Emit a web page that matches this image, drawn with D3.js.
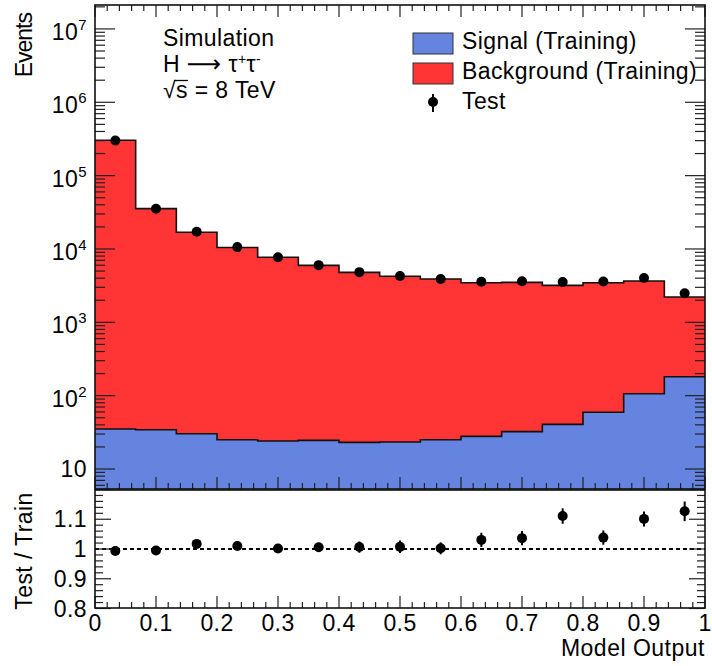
<!DOCTYPE html>
<html>
<head>
<meta charset="utf-8">
<script src="https://cdn.jsdelivr.net/npm/d3@7"></script>
<style>
  body { margin: 0; background: #fff; }
  text { font-family: "Liberation Sans", Arial, Helvetica, sans-serif; fill: #000; letter-spacing: 0.4px; }
</style>
</head>
<body>
<div class="boundary"></div>
<script>
// histogram contents, 15 bins on [0,1]
var nBins = 15;
var signal = [35.1, 34.3, 30.3, 25.1, 24.1, 24.6, 23.1, 23.4, 25.1, 27.9, 32.3, 40.6, 59.3, 106, 181];
var background = [302960, 35470, 16870, 10470, 7680, 5960, 4780, 4220, 3870, 3440, 3470, 3150, 3410, 3550, 2030];
var test = [300900, 35320, 17190, 10600, 7715, 6020, 4834, 4274, 3904, 3574, 3630, 3544, 3602, 4026, 2491];
var testErr = [909, 178, 101, 74, 69, 72, 91, 89, 78, 83, 84, 83, 83, 92, 73];
var xTicks = [0, 0.1, 0.2, 0.3, 0.4, 0.5, 0.6, 0.7, 0.8, 0.9, 1];
var yDecades = [1, 2, 3, 4, 5, 6, 7];
var ratioTicks = [0.8, 0.9, 1, 1.1];

var width = 712, height = 666;
var left = 95, right = 705;
var mainTop = 5, mainBottom = 489;
var ratTop = 490, ratBottom = 608;

var svg = d3.select(".boundary").append("svg")
  .attr("width", width).attr("height", height)
  .style("background", "#fff");

var x = d3.scaleLinear().domain([0, 1]).range([left, right]);
var y = d3.scaleLog().domain([5.34, 2.12e7]).range([mainBottom, mainTop]);
var yr = d3.scaleLinear().domain([0.8, 1.2]).range([ratBottom + 0.5, ratTop - 0.5]);

var bins = d3.range(nBins).map(function(i) {
  var tot = signal[i] + background[i];
  return {
    lo: i / nBins, hi: (i + 1) / nBins,
    sig: signal[i], tot: tot,
    test: test[i], err: testErr[i],
    ratio: test[i] / tot, rerr: testErr[i] / tot
  };
});
// step points (last value repeated at x = 1)
var steps = bins.map(function(d) { return d; }).concat([{ lo: 1, sig: bins[nBins - 1].sig, tot: bins[nBins - 1].tot }]);

svg.append("clipPath").attr("id", "mainclip").append("rect")
  .attr("x", left).attr("y", mainTop).attr("width", right - left).attr("height", mainBottom - mainTop);
var main = svg.append("g").attr("clip-path", "url(#mainclip)");

var redFill = "#ff3434", blueFill = "#6584e0";

var bkgArea = d3.area().curve(d3.curveStepAfter)
  .x(function(d) { return x(d.lo); })
  .y0(function(d) { return y(d.sig); })
  .y1(function(d) { return y(d.tot); });
var sigArea = d3.area().curve(d3.curveStepAfter)
  .x(function(d) { return x(d.lo); })
  .y0(mainBottom + 5)
  .y1(function(d) { return y(d.sig); });
main.append("path").attr("d", bkgArea(steps)).attr("fill", redFill);
main.append("path").attr("d", sigArea(steps)).attr("fill", blueFill);

var topLine = d3.line().curve(d3.curveStepAfter).x(function(d) { return x(d.lo); });
main.append("path").attr("d", topLine.y(function(d) { return y(d.tot); })(steps))
  .attr("fill", "none").attr("stroke", "#111").attr("stroke-width", 1.6);
main.append("path").attr("d", topLine.y(function(d) { return y(d.sig); })(steps))
  .attr("fill", "none").attr("stroke", "#111").attr("stroke-width", 1.6);

// test points on the main panel
var pts = main.append("g").selectAll("g").data(bins).enter().append("g");
pts.append("line")
  .attr("x1", function(d) { return x((d.lo + d.hi) / 2); })
  .attr("x2", function(d) { return x((d.lo + d.hi) / 2); })
  .attr("y1", function(d) { return y(d.test + d.err); })
  .attr("y2", function(d) { return y(d.test - d.err); })
  .attr("stroke", "#000").attr("stroke-width", 2);
pts.append("circle")
  .attr("cx", function(d) { return x((d.lo + d.hi) / 2); })
  .attr("cy", function(d) { return y(d.test); })
  .attr("r", 5).attr("fill", "#000");

// ratio panel
svg.append("line").attr("x1", left).attr("x2", right)
  .attr("y1", yr(1)).attr("y2", yr(1))
  .attr("stroke", "#000").attr("stroke-width", 2).attr("stroke-dasharray", "4,3");
var rpts = svg.append("g").selectAll("g").data(bins).enter().append("g");
rpts.append("line")
  .attr("x1", function(d) { return x((d.lo + d.hi) / 2); })
  .attr("x2", function(d) { return x((d.lo + d.hi) / 2); })
  .attr("y1", function(d) { return yr(d.ratio + d.rerr); })
  .attr("y2", function(d) { return yr(d.ratio - d.rerr); })
  .attr("stroke", "#000").attr("stroke-width", 2);
rpts.append("circle")
  .attr("cx", function(d) { return x((d.lo + d.hi) / 2); })
  .attr("cy", function(d) { return yr(d.ratio); })
  .attr("r", 5).attr("fill", "#000");

// ticks
var axes = svg.append("g").attr("stroke", "#222").attr("stroke-width", 1.2);
function tick(x1, y1, x2, y2) {
  axes.append("line").attr("x1", x1).attr("y1", y1).attr("x2", x2).attr("y2", y2);
}
var xMinor = d3.range(0, 51).map(function(i) { return i / 50; });
xMinor.forEach(function(v) {
  var major = Math.abs(v * 10 - Math.round(v * 10)) < 1e-6;
  var len = major ? 12 : 6;
  tick(x(v), mainBottom, x(v), mainBottom - len);
  tick(x(v), mainTop, x(v), mainTop + len);
  tick(x(v), ratBottom, x(v), ratBottom - len);
});
// log y ticks
d3.range(0, 8).forEach(function(k) {
  d3.range(1, 10).forEach(function(m) {
    var v = m * Math.pow(10, k);
    if (v < y.domain()[0] || v > y.domain()[1]) return;
    var len = m === 1 ? 20 : 10;
    tick(left, y(v), left + len, y(v));
    tick(right, y(v), right - len, y(v));
  });
});
// ratio y ticks
d3.range(0, 21).forEach(function(i) {
  var v = 0.8 + i * 0.02;
  var major = i % 5 === 0;
  var len = major ? 16 : 8;
  tick(left, yr(v), left + len, yr(v));
  tick(right, yr(v), right - len, yr(v));
});

// frames
svg.append("rect").attr("x", left).attr("y", mainTop).attr("width", right - left).attr("height", mainBottom - mainTop)
  .attr("fill", "none").attr("stroke", "#111").attr("stroke-width", 1.6);
svg.append("rect").attr("x", left).attr("y", ratTop).attr("width", right - left).attr("height", ratBottom - ratTop)
  .attr("fill", "none").attr("stroke", "#111").attr("stroke-width", 1.6);

// tick labels
var fs = 23;
yDecades.forEach(function(k) {
  var t = svg.append("text").attr("x", 87).attr("text-anchor", "end").style("font-size", fs + "px");
  if (k === 1) {
    t.attr("y", y(10) + 8).text("10");
  } else {
    t.attr("y", y(Math.pow(10, k)) + 11);
    t.append("tspan").text("10");
    t.append("tspan").attr("dy", -10).style("font-size", "15px").text(k);
  }
});
ratioTicks.forEach(function(v) {
  svg.append("text").attr("x", 87).attr("y", yr(v) + 8).attr("text-anchor", "end")
    .style("font-size", fs + "px").text(d3.format("")(+v.toFixed(1)));
});
xTicks.forEach(function(v) {
  svg.append("text").attr("x", x(v)).attr("y", 631).attr("text-anchor", "middle")
    .style("font-size", fs + "px").text(d3.format("")(v));
});

// axis titles
svg.append("text").attr("transform", "translate(32,13) rotate(-90)").attr("text-anchor", "end")
  .style("font-size", "23px").style("letter-spacing", "-1px").text("Events");
svg.append("text").attr("transform", "translate(32,551) rotate(-90)").attr("text-anchor", "middle")
  .style("font-size", "23px").text("Test / Train");
svg.append("text").attr("x", 705).attr("y", 656).attr("text-anchor", "end")
  .style("font-size", "23px").style("letter-spacing", "0.5px").text("Model Output");

// labels
var lab = svg.append("g").style("font-size", "23px");
lab.append("text").attr("x", 163).attr("y", 46).text("Simulation");
var h = lab.append("text").attr("x", 163).attr("y", 72);
h.append("tspan").text("H ");
h.append("tspan").style("font-family", "'DejaVu Sans'").style("font-size", "24px").text("\u27f6");
h.append("tspan").text(" \u03c4");
h.append("tspan").attr("dy", -8).style("font-size", "14px").text("+");
h.append("tspan").attr("dy", 8).text("\u03c4");
h.append("tspan").attr("dy", -8).style("font-size", "14px").text("-");
var rs = lab.append("text").attr("x", 163).attr("y", 98);
rs.append("tspan").text("\u221a");
rs.append("tspan").text("s");
rs.append("tspan").text(" = 8 TeV");
// bar of the square root over "s"
var sBox = rs.node().getExtentOfChar(1);
var rBox = rs.node().getExtentOfChar(0);
lab.append("line")
  .attr("x1", rBox.x + rBox.width - 1.5).attr("x2", sBox.x + sBox.width)
  .attr("y1", 98 - 17.5).attr("y2", 98 - 17.5)
  .attr("stroke", "#000").attr("stroke-width", 1.3);

// legend
var legendItems = [
  { label: "Signal (Training)", fill: blueFill },
  { label: "Background (Training)", fill: redFill },
  { label: "Test", fill: null }
];
var legend = svg.append("g").attr("transform", "translate(413,33)")
  .selectAll("g").data(legendItems).enter().append("g")
  .attr("transform", function(d, i) { return "translate(0," + i * 30 + ")"; });
legend.filter(function(d) { return d.fill; }).append("rect")
  .attr("width", 40).attr("height", 21).attr("fill", function(d) { return d.fill; })
  .attr("stroke", "#333").attr("stroke-width", 1);
var mk = legend.filter(function(d) { return !d.fill; });
mk.append("line").attr("x1", 20).attr("x2", 20).attr("y1", 1).attr("y2", 19)
  .attr("stroke", "#000").attr("stroke-width", 2);
mk.append("circle").attr("cx", 20).attr("cy", 9).attr("r", 5).attr("fill", "#000");
legend.append("text").attr("x", 49).attr("y", 16).style("font-size", "23px")
  .text(function(d) { return d.label; });
</script>
</body>
</html>
